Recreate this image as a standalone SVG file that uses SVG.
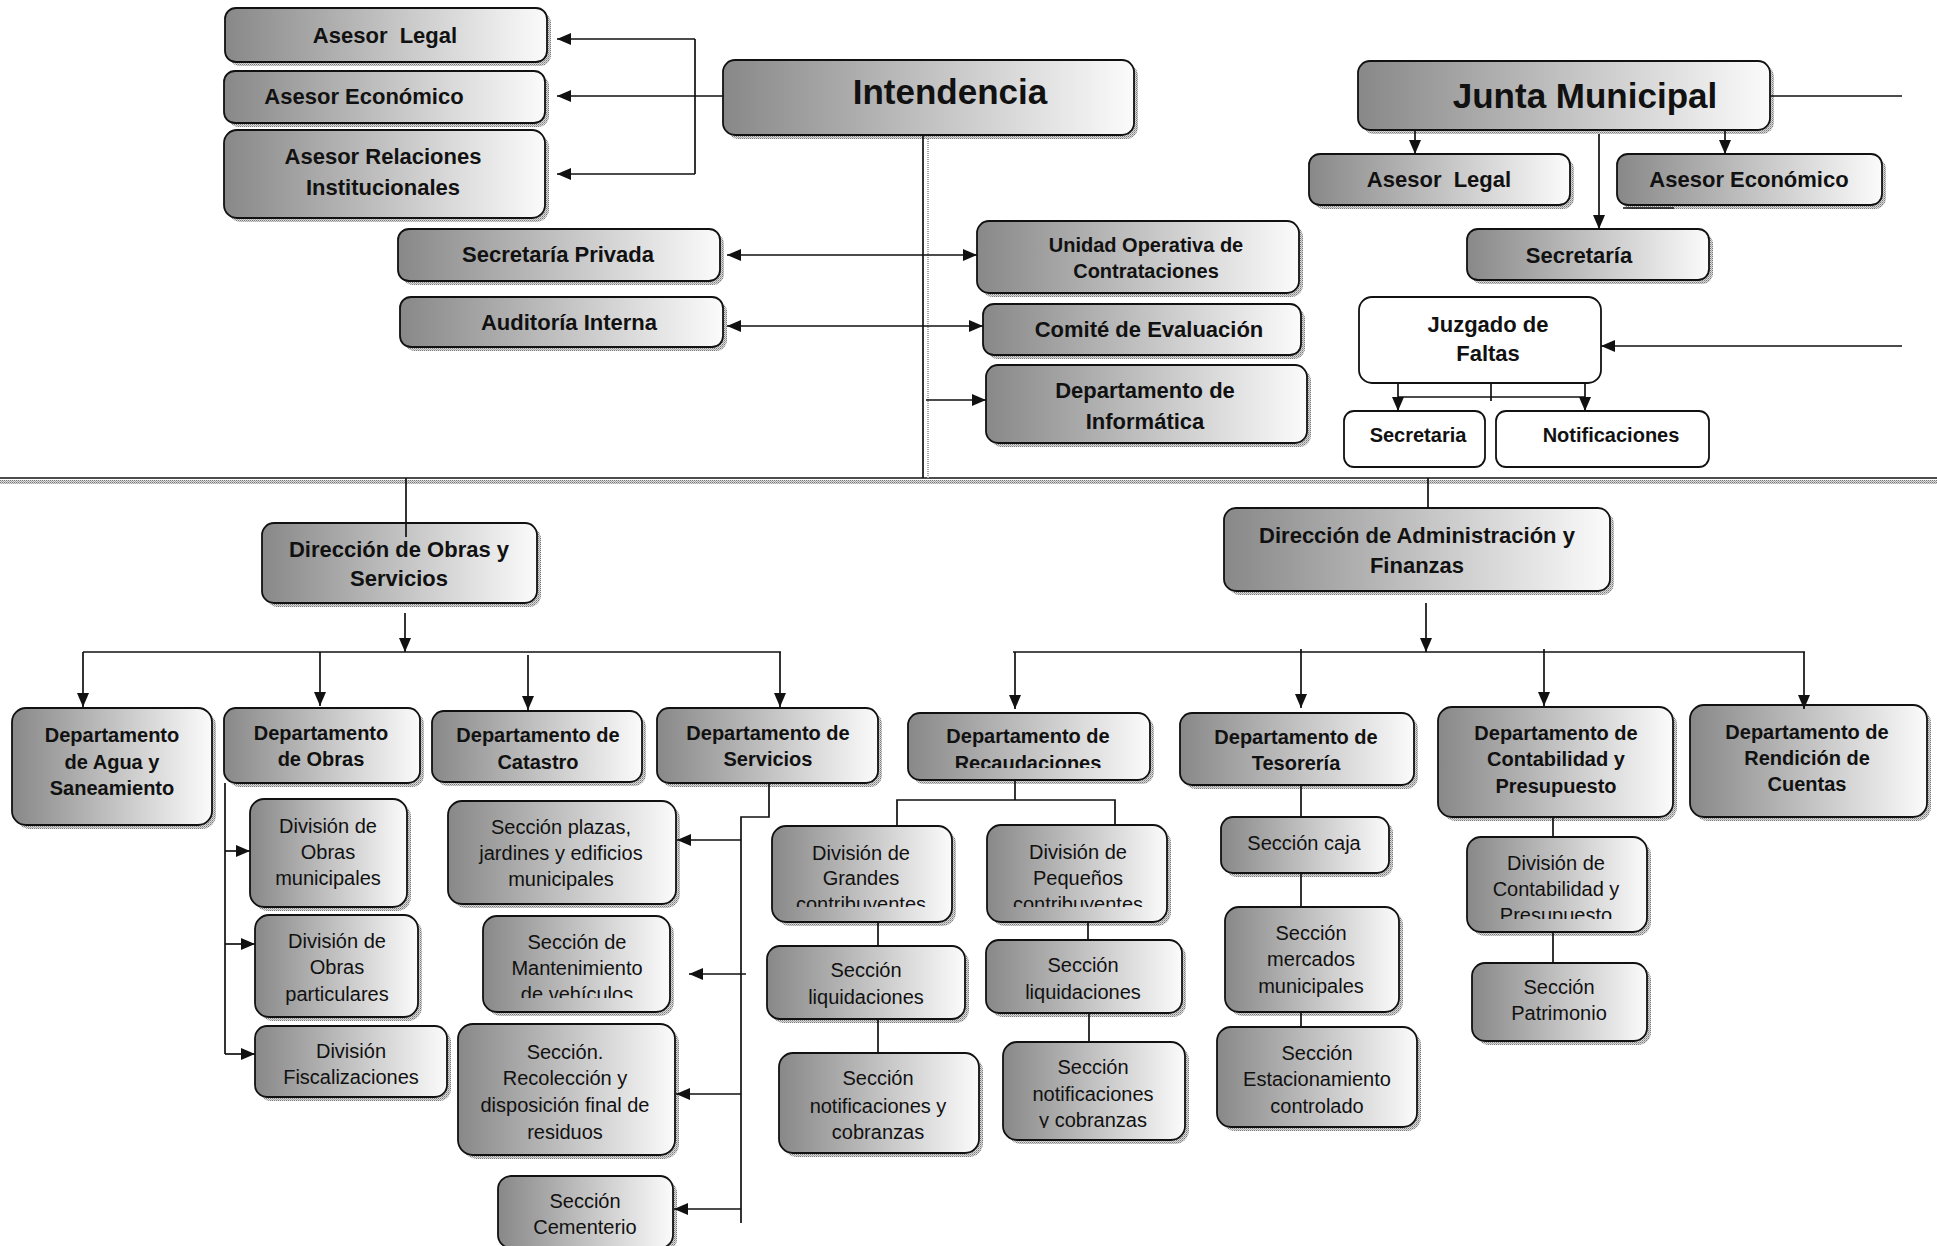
<svg xmlns="http://www.w3.org/2000/svg" width="1937" height="1246" viewBox="0 0 1937 1246">
<style>
.box{fill:url(#grad);stroke:#111;stroke-width:1.8}
.plain{fill:#fff;stroke:#111;stroke-width:1.8}
.sh{fill:url(#dots)}
.t{font-family:"Liberation Sans",Arial,sans-serif;fill:#111;text-anchor:middle}
.b{font-weight:bold}
.s20{font-size:20px}
.s22{font-size:22px}
.s35{font-size:35px}
.ln{stroke:#111;stroke-width:1.7;fill:none}
.ar{stroke:#111;stroke-width:1.7;fill:none;marker-end:url(#ah)}
.da{stroke:#111;stroke-width:1.7;fill:none;marker-start:url(#ah);marker-end:url(#ah)}
</style>
<defs>
<linearGradient id="grad" x1="0" y1="0" x2="1" y2="0">
<stop offset="0" stop-color="#888888"/>
<stop offset="1" stop-color="#fbfbfb"/>
</linearGradient>
<pattern id="dots" width="2" height="2" patternUnits="userSpaceOnUse">
<rect width="2" height="2" fill="#dadada"/>
<rect width="1" height="1" fill="#7a7a7a"/>
<rect x="1" y="1" width="1" height="1" fill="#a8a8a8"/>
</pattern>
<marker id="ah" markerUnits="userSpaceOnUse" markerWidth="14" markerHeight="12" refX="14" refY="6" orient="auto-start-reverse">
<path d="M0,0 L14,6 L0,12 z" fill="#111"/>
</marker>
<clipPath id="cRecaud"><rect x="908" y="713" width="242" height="55"/></clipPath>
<clipPath id="cMant"><rect x="483" y="916" width="187" height="82"/></clipPath>
<clipPath id="cGrandes"><rect x="772" y="826" width="180" height="81"/></clipPath>
<clipPath id="cPeq"><rect x="987" y="825" width="180" height="82"/></clipPath>
<clipPath id="cNotifR"><rect x="1003" y="1042" width="182" height="86"/></clipPath>
<clipPath id="cDivCont"><rect x="1467" y="837" width="180" height="82"/></clipPath>
</defs>
<rect width="1937" height="1246" fill="#fff"/>

<!-- separator between upper and lower levels -->
<g id="separator">
<rect class="sh" x="0" y="480" width="1937" height="4"/>
<path class="ln" d="M0,478 H1937" stroke-width="2"/>
</g>

<!-- upper left: Intendencia and its advisers -->
<g id="asesor-legal">
<rect class="sh" x="229" y="12" width="322" height="54" rx="11"/>
<rect class="box" x="225" y="8" width="322" height="54" rx="11"/>
<text class="t b s22" x="385" y="43" xml:space="preserve">Asesor  Legal</text>
</g>
<g id="asesor-economico">
<rect class="sh" x="228" y="75" width="321" height="52" rx="11"/>
<rect class="box" x="224" y="71" width="321" height="52" rx="11"/>
<text class="t b s22" x="364" y="104">Asesor Económico</text>
</g>
<g id="asesor-relaciones">
<rect class="sh" x="228" y="134" width="321" height="88" rx="13"/>
<rect class="box" x="224" y="130" width="321" height="88" rx="13"/>
<text class="t b s22"><tspan x="383" y="164">Asesor Relaciones</tspan><tspan x="383" y="195">Institucionales</tspan></text>
</g>
<g id="intendencia">
<rect class="sh" x="727" y="64" width="411" height="75" rx="12"/>
<rect class="box" x="723" y="60" width="411" height="75" rx="12"/>
<text class="t b s35" x="950" y="104">Intendencia</text>
</g>
<g id="secretaria-privada">
<rect class="sh" x="402" y="233" width="322" height="52" rx="11"/>
<rect class="box" x="398" y="229" width="322" height="52" rx="11"/>
<text class="t b s22" x="558" y="262">Secretaría Privada</text>
</g>
<g id="auditoria-interna">
<rect class="sh" x="404" y="301" width="323" height="50" rx="11"/>
<rect class="box" x="400" y="297" width="323" height="50" rx="11"/>
<text class="t b s22" x="569" y="330">Auditoría Interna</text>
</g>
<g id="unidad-operativa">
<rect class="sh" x="981" y="225" width="322" height="72" rx="12"/>
<rect class="box" x="977" y="221" width="322" height="72" rx="12"/>
<text class="t b s20"><tspan x="1146" y="252">Unidad Operativa de</tspan><tspan x="1146" y="278">Contrataciones</tspan></text>
</g>
<g id="comite-evaluacion">
<rect class="sh" x="987" y="308" width="318" height="51" rx="11"/>
<rect class="box" x="983" y="304" width="318" height="51" rx="11"/>
<text class="t b s22" x="1149" y="337">Comité de Evaluación</text>
</g>
<g id="departamento-informatica">
<rect class="sh" x="990" y="369" width="321" height="78" rx="12"/>
<rect class="box" x="986" y="365" width="321" height="78" rx="12"/>
<text class="t b s22"><tspan x="1145" y="398">Departamento de</tspan><tspan x="1145" y="429">Informática</tspan></text>
</g>

<!-- upper right: Junta Municipal -->
<g id="junta-municipal">
<rect class="sh" x="1362" y="65" width="412" height="69" rx="12"/>
<rect class="box" x="1358" y="61" width="412" height="69" rx="12"/>
<text class="t b s35" x="1585" y="108">Junta Municipal</text>
</g>
<g id="asesor-legal-junta">
<rect class="sh" x="1313" y="158" width="261" height="51" rx="11"/>
<rect class="box" x="1309" y="154" width="261" height="51" rx="11"/>
<text class="t b s22" x="1439" y="187" xml:space="preserve">Asesor  Legal</text>
</g>
<g id="asesor-economico-junta">
<rect class="sh" x="1621" y="158" width="265" height="51" rx="11"/>
<rect class="box" x="1617" y="154" width="265" height="51" rx="11"/>
<text class="t b s22" x="1749" y="187">Asesor Económico</text>
</g>
<g id="secretaria-junta">
<rect class="sh" x="1471" y="233" width="242" height="51" rx="11"/>
<rect class="box" x="1467" y="229" width="242" height="51" rx="11"/>
<text class="t b s22" x="1579" y="263">Secretaría</text>
</g>
<g id="juzgado-faltas">
<rect class="plain" x="1359" y="297" width="242" height="86" rx="13"/>
<text class="t b s22"><tspan x="1488" y="332">Juzgado de</tspan><tspan x="1488" y="361">Faltas</tspan></text>
</g>
<g id="secretaria-juzgado">
<rect class="plain" x="1344" y="411" width="141" height="56" rx="10"/>
<text class="t b s20" x="1418" y="442">Secretaria</text>
</g>
<g id="notificaciones-juzgado">
<rect class="plain" x="1496" y="411" width="213" height="56" rx="10"/>
<text class="t b s20" x="1611" y="442">Notificaciones</text>
</g>

<!-- directorates -->
<g id="direccion-obras">
<rect class="sh" x="266" y="527" width="275" height="80" rx="12"/>
<rect class="box" x="262" y="523" width="275" height="80" rx="12"/>
<text class="t b s22"><tspan x="399" y="557">Dirección de Obras y</tspan><tspan x="399" y="586">Servicios</tspan></text>
</g>
<g id="direccion-administracion">
<rect class="sh" x="1228" y="512" width="386" height="83" rx="12"/>
<rect class="box" x="1224" y="508" width="386" height="83" rx="12"/>
<text class="t b s22"><tspan x="1417" y="543">Dirección de Administración y</tspan><tspan x="1417" y="573">Finanzas</tspan></text>
</g>

<!-- departments -->
<g id="depto-agua">
<rect class="sh" x="16" y="712" width="200" height="117" rx="14"/>
<rect class="box" x="12" y="708" width="200" height="117" rx="14"/>
<text class="t b s20"><tspan x="112" y="742">Departamento</tspan><tspan x="112" y="769">de Agua y</tspan><tspan x="112" y="795">Saneamiento</tspan></text>
</g>
<g id="depto-obras">
<rect class="sh" x="228" y="712" width="196" height="75" rx="12"/>
<rect class="box" x="224" y="708" width="196" height="75" rx="12"/>
<text class="t b s20"><tspan x="321" y="740">Departamento</tspan><tspan x="321" y="766">de Obras</tspan></text>
</g>
<g id="depto-catastro">
<rect class="sh" x="436" y="715" width="210" height="71" rx="12"/>
<rect class="box" x="432" y="711" width="210" height="71" rx="12"/>
<text class="t b s20"><tspan x="538" y="742">Departamento de</tspan><tspan x="538" y="769">Catastro</tspan></text>
</g>
<g id="depto-servicios">
<rect class="sh" x="661" y="712" width="221" height="75" rx="12"/>
<rect class="box" x="657" y="708" width="221" height="75" rx="12"/>
<text class="t b s20"><tspan x="768" y="740">Departamento de</tspan><tspan x="768" y="766">Servicios</tspan></text>
</g>
<g id="depto-recaudaciones">
<rect class="sh" x="912" y="717" width="242" height="67" rx="12"/>
<rect class="box" x="908" y="713" width="242" height="67" rx="12"/>
<text class="t b s20" clip-path="url(#cRecaud)"><tspan x="1028" y="743">Departamento de</tspan><tspan x="1028" y="770">Recaudaciones</tspan></text>
</g>
<g id="depto-tesoreria">
<rect class="sh" x="1184" y="717" width="234" height="72" rx="12"/>
<rect class="box" x="1180" y="713" width="234" height="72" rx="12"/>
<text class="t b s20"><tspan x="1296" y="744">Departamento de</tspan><tspan x="1296" y="770">Tesorería</tspan></text>
</g>
<g id="depto-contabilidad">
<rect class="sh" x="1442" y="711" width="235" height="110" rx="14"/>
<rect class="box" x="1438" y="707" width="235" height="110" rx="14"/>
<text class="t b s20"><tspan x="1556" y="740">Departamento de</tspan><tspan x="1556" y="766">Contabilidad y</tspan><tspan x="1556" y="793">Presupuesto</tspan></text>
</g>
<g id="depto-rendicion">
<rect class="sh" x="1694" y="709" width="237" height="112" rx="14"/>
<rect class="box" x="1690" y="705" width="237" height="112" rx="14"/>
<text class="t b s20"><tspan x="1807" y="739">Departamento de</tspan><tspan x="1807" y="765">Rendición de</tspan><tspan x="1807" y="791">Cuentas</tspan></text>
</g>

<!-- divisions and sections: obras / servicios -->
<g id="div-obras-municipales">
<rect class="sh" x="254" y="803" width="157" height="108" rx="14"/>
<rect class="box" x="250" y="799" width="157" height="108" rx="14"/>
<text class="t s20"><tspan x="328" y="833">División de</tspan><tspan x="328" y="859">Obras</tspan><tspan x="328" y="885">municipales</tspan></text>
</g>
<g id="div-obras-particulares">
<rect class="sh" x="259" y="919" width="163" height="102" rx="14"/>
<rect class="box" x="255" y="915" width="163" height="102" rx="14"/>
<text class="t s20"><tspan x="337" y="948">División de</tspan><tspan x="337" y="974">Obras</tspan><tspan x="337" y="1001">particulares</tspan></text>
</g>
<g id="div-fiscalizaciones">
<rect class="sh" x="259" y="1030" width="192" height="71" rx="12"/>
<rect class="box" x="255" y="1026" width="192" height="71" rx="12"/>
<text class="t s20"><tspan x="351" y="1058">División</tspan><tspan x="351" y="1084">Fiscalizaciones</tspan></text>
</g>
<g id="sec-plazas">
<rect class="sh" x="452" y="805" width="228" height="103" rx="14"/>
<rect class="box" x="448" y="801" width="228" height="103" rx="14"/>
<text class="t s20"><tspan x="561" y="834">Sección plazas,</tspan><tspan x="561" y="860">jardines y edificios</tspan><tspan x="561" y="886">municipales</tspan></text>
</g>
<g id="sec-mantenimiento">
<rect class="sh" x="487" y="920" width="187" height="96" rx="14"/>
<rect class="box" x="483" y="916" width="187" height="96" rx="14"/>
<text class="t s20" clip-path="url(#cMant)"><tspan x="577" y="949">Sección de</tspan><tspan x="577" y="975">Mantenimiento</tspan><tspan x="577" y="1001">de vehículos</tspan></text>
</g>
<g id="sec-recoleccion">
<rect class="sh" x="462" y="1028" width="217" height="131" rx="15"/>
<rect class="box" x="458" y="1024" width="217" height="131" rx="15"/>
<text class="t s20"><tspan x="565" y="1059">Sección.</tspan><tspan x="565" y="1085">Recolección y</tspan><tspan x="565" y="1112">disposición final de</tspan><tspan x="565" y="1139">residuos</tspan></text>
</g>
<g id="sec-cementerio">
<rect class="sh" x="502" y="1180" width="175" height="72" rx="13"/>
<rect class="box" x="498" y="1176" width="175" height="72" rx="13"/>
<text class="t s20"><tspan x="585" y="1208">Sección</tspan><tspan x="585" y="1234">Cementerio</tspan></text>
</g>

<!-- divisions and sections: recaudaciones -->
<g id="div-grandes">
<rect class="sh" x="776" y="830" width="180" height="96" rx="14"/>
<rect class="box" x="772" y="826" width="180" height="96" rx="14"/>
<text class="t s20" clip-path="url(#cGrandes)"><tspan x="861" y="860">División de</tspan><tspan x="861" y="885">Grandes</tspan><tspan x="861" y="911">contribuyentes</tspan></text>
</g>
<g id="div-pequenos">
<rect class="sh" x="991" y="829" width="180" height="97" rx="14"/>
<rect class="box" x="987" y="825" width="180" height="97" rx="14"/>
<text class="t s20" clip-path="url(#cPeq)"><tspan x="1078" y="859">División de</tspan><tspan x="1078" y="885">Pequeños</tspan><tspan x="1078" y="911">contribuyentes</tspan></text>
</g>
<g id="sec-liquidaciones-grandes">
<rect class="sh" x="771" y="950" width="198" height="73" rx="13"/>
<rect class="box" x="767" y="946" width="198" height="73" rx="13"/>
<text class="t s20"><tspan x="866" y="977">Sección</tspan><tspan x="866" y="1004">liquidaciones</tspan></text>
</g>
<g id="sec-notificaciones-grandes">
<rect class="sh" x="783" y="1057" width="200" height="100" rx="14"/>
<rect class="box" x="779" y="1053" width="200" height="100" rx="14"/>
<text class="t s20"><tspan x="878" y="1085">Sección</tspan><tspan x="878" y="1113">notificaciones y</tspan><tspan x="878" y="1139">cobranzas</tspan></text>
</g>
<g id="sec-liquidaciones-pequenos">
<rect class="sh" x="990" y="944" width="196" height="73" rx="13"/>
<rect class="box" x="986" y="940" width="196" height="73" rx="13"/>
<text class="t s20"><tspan x="1083" y="972">Sección</tspan><tspan x="1083" y="999">liquidaciones</tspan></text>
</g>
<g id="sec-notificaciones-pequenos">
<rect class="sh" x="1007" y="1046" width="182" height="98" rx="14"/>
<rect class="box" x="1003" y="1042" width="182" height="98" rx="14"/>
<text class="t s20" clip-path="url(#cNotifR)"><tspan x="1093" y="1074">Sección</tspan><tspan x="1093" y="1101">notificaciones</tspan><tspan x="1093" y="1127">y cobranzas</tspan></text>
</g>

<!-- sections: tesorería -->
<g id="sec-caja">
<rect class="sh" x="1225" y="821" width="168" height="56" rx="12"/>
<rect class="box" x="1221" y="817" width="168" height="56" rx="12"/>
<text class="t s20" x="1304" y="850">Sección caja</text>
</g>
<g id="sec-mercados">
<rect class="sh" x="1229" y="911" width="174" height="105" rx="14"/>
<rect class="box" x="1225" y="907" width="174" height="105" rx="14"/>
<text class="t s20"><tspan x="1311" y="940">Sección</tspan><tspan x="1311" y="966">mercados</tspan><tspan x="1311" y="993">municipales</tspan></text>
</g>
<g id="sec-estacionamiento">
<rect class="sh" x="1221" y="1031" width="200" height="100" rx="14"/>
<rect class="box" x="1217" y="1027" width="200" height="100" rx="14"/>
<text class="t s20"><tspan x="1317" y="1060">Sección</tspan><tspan x="1317" y="1086">Estacionamiento</tspan><tspan x="1317" y="1113">controlado</tspan></text>
</g>

<!-- contabilidad -->
<g id="div-contabilidad">
<rect class="sh" x="1471" y="841" width="180" height="95" rx="14"/>
<rect class="box" x="1467" y="837" width="180" height="95" rx="14"/>
<text class="t s20" clip-path="url(#cDivCont)"><tspan x="1556" y="870">División de</tspan><tspan x="1556" y="896">Contabilidad y</tspan><tspan x="1556" y="922">Presupuesto</tspan></text>
</g>
<g id="sec-patrimonio">
<rect class="sh" x="1476" y="967" width="175" height="78" rx="13"/>
<rect class="box" x="1472" y="963" width="175" height="78" rx="13"/>
<text class="t s20"><tspan x="1559" y="994">Sección</tspan><tspan x="1559" y="1020">Patrimonio</tspan></text>
</g>

<!-- connectors -->
<g id="connectors">
<path class="ln" d="M695,39 V174"/>
<path class="ar" d="M695,39 H557"/>
<path class="ar" d="M723,96 H557"/>
<path class="ar" d="M695,174 H557"/>
<path class="ln" d="M923,135 V478" stroke-width="2"/>
<path d="M928,139 V478" stroke="#a8a8a8" stroke-width="2" stroke-dasharray="1,1" fill="none"/>
<path class="da" d="M727,255 H977"/>
<path class="da" d="M727,326 H983"/>
<path class="ar" d="M926,400 H986"/>

<path class="ln" d="M1770,96 H1902"/>
<path class="ar" d="M1415,130 V154"/>
<path class="ar" d="M1725,130 V154"/>
<path class="ar" d="M1599,134 V229"/>
<path class="ln" d="M1623,208 H1674" stroke-width="2"/>
<path class="ar" d="M1902,346 H1601"/>
<path class="ar" d="M1398,383 V411"/>
<path class="ar" d="M1585,383 V411"/>
<path class="ln" d="M1398,397 H1585"/>
<path class="ln" d="M1491,383 V401"/>

<path class="ln" d="M406,478 V537"/>
<path class="ln" d="M1428,478 V508"/>

<path class="ar" d="M405,613 V652"/>
<path class="ln" d="M83,652 H781"/>
<path class="ar" d="M83,652 V707"/>
<path class="ar" d="M320,652 V706"/>
<path class="ar" d="M528,655 V710"/>
<path class="ar" d="M780,652 V707"/>

<path class="ar" d="M1426,603 V652"/>
<path class="ln" d="M1013,652 H1805"/>
<path class="ar" d="M1015,652 V709"/>
<path class="ar" d="M1301,649 V708"/>
<path class="ar" d="M1544,649 V706"/>
<path class="ar" d="M1804,652 V709"/>

<path class="ln" d="M225,783 V1054"/>
<path class="ar" d="M225,851 H250"/>
<path class="ar" d="M225,944 H255"/>
<path class="ar" d="M225,1054 H255"/>

<path class="ln" d="M769,783 V817 H741 V1223"/>
<path class="ar" d="M741,840 H677"/>
<path class="ar" d="M746,974 H689"/>
<path class="ar" d="M741,1094 H676"/>
<path class="ar" d="M741,1209 H674"/>

<path class="ln" d="M1015,780 V800"/>
<path class="ln" d="M897,826 V800 H1115 V825"/>
<path class="ln" d="M878,922 V946"/>
<path class="ln" d="M878,1019 V1053"/>
<path class="ln" d="M1088,922 V940"/>
<path class="ln" d="M1089,1013 V1042"/>

<path class="ln" d="M1301,785 V817"/>
<path class="ln" d="M1301,873 V907"/>
<path class="ln" d="M1301,1012 V1027"/>

<path class="ln" d="M1553,817 V837"/>
<path class="ln" d="M1553,932 V963"/>
</g>
</svg>
